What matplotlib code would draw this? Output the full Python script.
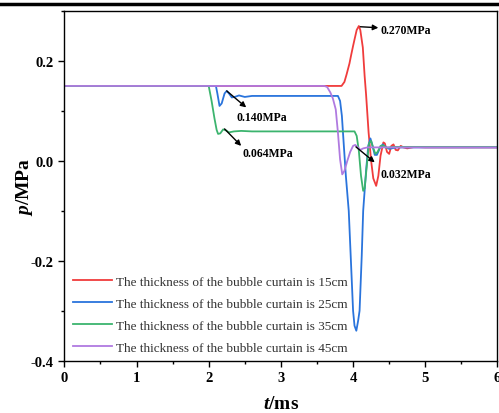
import matplotlib
matplotlib.use("Agg")
import matplotlib.pyplot as plt
from matplotlib.lines import Line2D
from matplotlib.ticker import MultipleLocator

plt.rcParams['font.family'] = ['Liberation Serif', 'DejaVu Serif']
plt.rcParams['mathtext.fontset'] = 'custom'
plt.rcParams['mathtext.it'] = 'Liberation Serif:italic:bold'
plt.rcParams['mathtext.rm'] = 'Liberation Serif:bold'
plt.rcParams['mathtext.bf'] = 'Liberation Serif:bold'

labels = ["The thickness of the bubble curtain is 15cm",
          "The thickness of the bubble curtain is 25cm",
          "The thickness of the bubble curtain is 35cm",
          "The thickness of the bubble curtain is 45cm"]
colors = ["#f03c3c", "#2a74dc", "#3cb46e", "#b07ae0"]
xticks = [0, 1, 2, 3, 4, 5, 6]
yticks = [-0.4, -0.2, 0.0, 0.2]

t15 = [0, 3.84, 3.88, 3.91, 3.95, 3.975, 4.00, 4.02, 4.05, 4.08, 4.10, 4.135, 4.16, 4.18, 4.215,
       4.25, 4.28, 4.32, 4.35, 4.38, 4.42, 4.44, 4.47, 4.50, 4.53, 4.56, 4.59, 4.62, 4.66, 4.70,
       4.75, 4.85, 5.0, 6.0]
p15 = [0.15, 0.15, 0.158, 0.173, 0.195, 0.213, 0.23, 0.243, 0.262, 0.27, 0.262, 0.227, 0.17, 0.133, 0.057,
       0.0, -0.035, -0.05, -0.03, 0.01, 0.037, 0.035, 0.018, 0.014, 0.03, 0.033, 0.022, 0.021, 0.03, 0.027,
       0.025, 0.028, 0.027, 0.027]

t25 = [0, 2.10, 2.12, 2.15, 2.18, 2.22, 2.25, 2.28, 2.32, 2.36, 2.42, 2.5, 2.6, 3.0, 3.5, 3.79,
       3.82, 3.845, 3.87, 3.90, 3.94, 3.97, 4.00, 4.02, 4.045, 4.07, 4.09, 4.12, 4.14, 4.18, 4.21,
       4.24, 4.27, 4.30, 4.33, 4.37, 4.41, 4.45, 4.5, 4.6, 6.0]
p25 = [0.15, 0.15, 0.135, 0.11, 0.115, 0.135, 0.14, 0.135, 0.127, 0.128, 0.131, 0.128, 0.13, 0.13, 0.13, 0.13,
       0.12, 0.09, 0.035, -0.03, -0.1, -0.2, -0.3, -0.33, -0.34, -0.32, -0.3, -0.19, -0.1, -0.02, 0.03,
       0.045, 0.03, 0.012, 0.012, 0.025, 0.033, 0.028, 0.024, 0.027, 0.027]

t35 = [0, 2.0, 2.04, 2.08, 2.11, 2.13, 2.16, 2.20, 2.24, 2.28, 2.35, 2.45, 2.6, 3.0, 4.02,
       4.05, 4.08, 4.11, 4.14, 4.16, 4.19, 4.22, 4.25, 4.28, 4.31, 4.34, 4.38, 4.42, 4.46, 4.55, 6.0]
p35 = [0.15, 0.15, 0.12, 0.085, 0.062, 0.054, 0.055, 0.063, 0.061, 0.057, 0.059, 0.06, 0.059, 0.059, 0.059,
       0.05, 0.02, -0.03, -0.06, -0.055, -0.01, 0.035, 0.04, 0.025, 0.014, 0.018, 0.03, 0.031, 0.026, 0.028, 0.028]

t45 = [0, 3.6, 3.64, 3.685, 3.72, 3.76, 3.79, 3.82, 3.85, 3.88, 3.92, 3.96, 4.0, 4.03, 4.06, 4.1,
       4.14, 4.2, 6.0]
p45 = [0.15, 0.15, 0.148, 0.137, 0.125, 0.103, 0.057, 0.003, -0.027, -0.02, 0.0, 0.018, 0.03, 0.032, 0.028, 0.022,
       0.025, 0.027, 0.027]

series = [(t15, p15), (t25, p25), (t35, p35), (t45, p45)]

fig = plt.figure(figsize=(4.99, 4.14), dpi=100)
ax = fig.add_axes([0.1289, 0.1263, 0.868, 0.8447])

for (t, p), c, lab in zip(series, colors, labels):
    ax.plot(t, p, color=c, lw=1.3, label=lab)

ax.set_xlim(0, 6)
ax.set_ylim(-0.4, 0.3)
ax.set_xticks(xticks)
ax.set_xticklabels([f"{v:g}" for v in xticks], fontweight='bold')
ax.set_yticks(yticks)
ax.set_yticklabels([f"{v:.1f}" for v in yticks], fontweight='bold')
ax.xaxis.set_minor_locator(MultipleLocator(0.5))
ax.yaxis.set_minor_locator(MultipleLocator(0.1))
ax.tick_params(which='both', direction='out', top=False, right=False)
ax.tick_params(which='major', length=4, width=1, labelsize=10.5)
ax.tick_params(which='minor', length=2.5, width=1)
for s in ax.spines.values():
    s.set_linewidth(1.0)

ax.set_xlabel(r"$t$/ms", fontsize=14, fontweight='bold', labelpad=8)
ax.set_ylabel(r"$p$/MPa", fontsize=14, fontweight='bold', labelpad=-3)

leg = ax.legend(loc='lower left', bbox_to_anchor=(-0.005, -0.012), frameon=False, fontsize=9.5,
                handlelength=2.9, handletextpad=0.35, labelspacing=0.74, borderaxespad=0.45)
for txt in leg.get_texts():
    txt.set_color('#333333')

arr = dict(arrowstyle='-|>', color='black', lw=1.0, mutation_scale=8, shrinkA=0, shrinkB=0)
fs_ann = 8.5
ax.annotate("", xy=(4.35, 0.2665), xytext=(4.1, 0.2685), arrowprops=arr)
ax.text(4.38, 0.2625, "0.270MPa", fontsize=fs_ann, fontweight='bold', ha='left', va='center')
ax.annotate("", xy=(2.52, 0.107), xytext=(2.25, 0.14), arrowprops=arr)
ax.text(2.38, 0.087, "0.140MPa", fontsize=fs_ann, fontweight='bold', ha='left', va='center')
ax.annotate("", xy=(2.45, 0.03), xytext=(2.22, 0.064), arrowprops=arr)
ax.text(2.47, 0.015, "0.064MPa", fontsize=fs_ann, fontweight='bold', ha='left', va='center')
ax.annotate("", xy=(4.3, -0.003), xytext=(4.04, 0.028), arrowprops=arr)
ax.text(4.38, -0.027, "0.032MPa", fontsize=fs_ann, fontweight='bold', ha='left', va='center')

fig.add_artist(Line2D([0, 1], [0.987, 0.987], transform=fig.transFigure, color='black', lw=2.5))

fig.savefig("out.png", dpi=100)
